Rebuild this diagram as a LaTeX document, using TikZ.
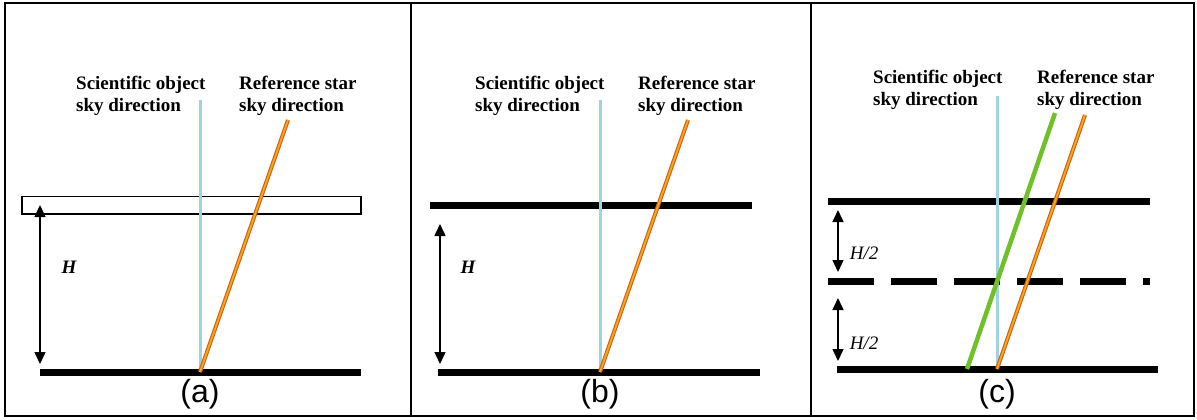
\documentclass[tikz,border=0pt]{standalone}
\usepackage{fontspec}
\setmainfont{Liberation Serif}
\newfontfamily\labelfont{Liberation Sans}
\usetikzlibrary{arrows.meta}
\definecolor{skyblue}{RGB}{160,210,228}
\definecolor{rayedge}{RGB}{205,95,20}
\definecolor{rayfill}{RGB}{245,168,30}
\definecolor{raygreen}{RGB}{112,192,42}
\tikzset{
    caption/.style={font=\bfseries\fontsize{19}{22}\selectfont, align=left, anchor=north west, inner sep=0pt},
    panellabel/.style={font=\labelfont\fontsize{32}{36}\selectfont, inner sep=0pt},
    hlabel/.style={font=\bfseries\itshape\fontsize{19}{22}\selectfont, inner sep=0pt},
    halflabel/.style={font=\itshape\fontsize{19}{22}\selectfont, inner sep=0pt},
    plate/.style={line width=7pt},
    objray/.style={draw=skyblue, line width=3pt},
    refray/.style={draw=rayedge, double=rayfill, double distance=1.8pt, line width=1.1pt},
    guideray/.style={draw=raygreen, line width=4.5pt},
    height/.style={line width=1.5pt, {Triangle[width=11pt,length=12pt]}-{Triangle[width=11pt,length=12pt]}}
}

\begin{document}
\begin{tikzpicture}[x=1pt, y=-1pt]
    \useasboundingbox (0,0) rectangle (1197,420);
    \draw [line width=2pt] (5,3) rectangle (1194,416);
    \draw [line width=2pt] (410.5,3) -- (410.5,416);
    \draw [line width=2pt] (810.5,3) -- (810.5,416);

    % (a)
    \node (objA) [caption] at (76,76) {Scientific object\\sky direction};
    \node (refA) [caption] at (239,76) {Reference star\\sky direction};
    \draw [line width=1.5pt] (22,196.5) rectangle (361,214);
    \coordinate (footA) at (200,372);
    \draw [plate] (40,372) -- (361,372);
    \draw [objray] (200,100) -- (footA);
    \draw [refray] (288,120) -- (footA);
    \draw [height] (40,205) -- (40,364);
    \node (hA) [hlabel] at (69,267) {H};
    \node (capA) [panellabel] at (200,394) {(a)};

    % (b)
    \node (objB) [caption] at (475,76) {Scientific object\\sky direction};
    \node (refB) [caption] at (638,76) {Reference star\\sky direction};
    \draw [plate] (430,205) -- (752,205);
    \coordinate (footB) at (600,372);
    \draw [plate] (438,372) -- (760,372);
    \draw [objray] (600,100) -- (footB);
    \draw [refray] (688,120) -- (footB);
    \draw [height] (440,224) -- (440,364);
    \node (hB) [hlabel] at (468,267) {H};
    \node (capB) [panellabel] at (600,394) {(b)};

    % (c)
    \node (objC) [caption] at (873,70) {Scientific object\\sky direction};
    \node (refC) [caption] at (1037,70) {Reference star\\sky direction};
    \draw [plate] (828,201) -- (1150,201);
    \draw [plate, dash pattern=on 46pt off 17pt] (828,281) -- (1150,281);
    \draw [plate] (837,369) -- (1158,369);
    \coordinate (footC) at (997,369);
    \draw [objray] (997,96) -- (footC);
    \draw [guideray] (1055,113) -- (967,369);
    \draw [refray] (1085,115) -- (footC);
    \draw [height] (838,210) -- (838,272);
    \draw [height] (838,298) -- (838,361);
    \node (hC1) [halflabel] at (864,253) {H/2};
    \node (hC2) [halflabel] at (864,343) {H/2};
    \node (capC) [panellabel] at (997,394) {(c)};
\end{tikzpicture}
\end{document}
